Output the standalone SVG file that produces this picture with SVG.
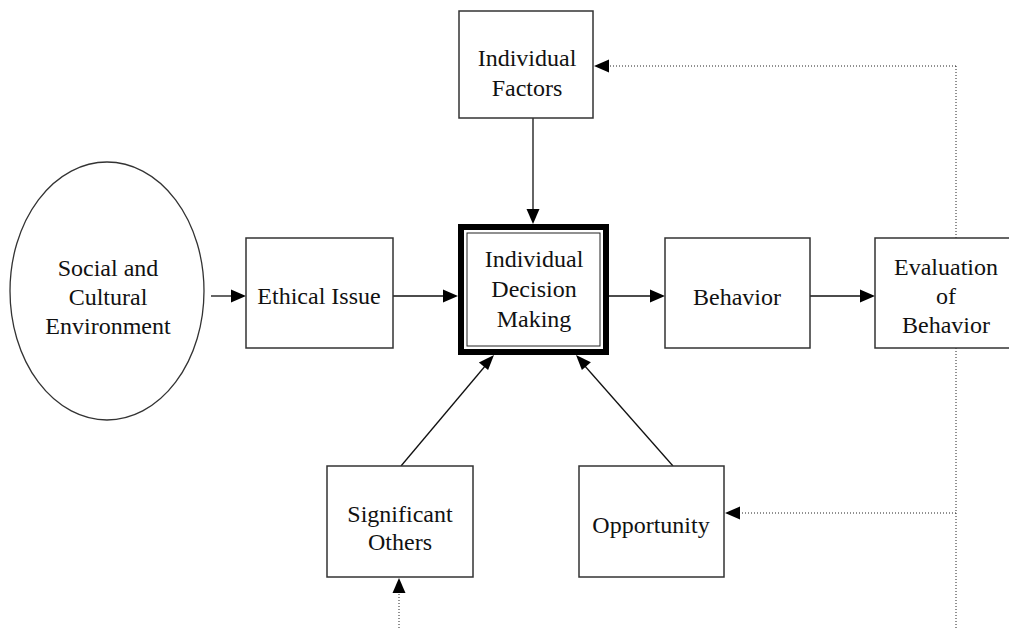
<svg xmlns="http://www.w3.org/2000/svg" width="1009" height="628" viewBox="0 0 1009 628">
  <style>
    .box { fill: #ffffff; stroke: #333333; stroke-width: 1.5; }
    .lbl { font-family: "Liberation Serif", "Times New Roman", "DejaVu Serif", serif; font-size: 24px; fill: #111111; text-anchor: middle; }
    .solid { stroke: #111111; stroke-width: 1.3; fill: none; }
    .dot { stroke: #222222; stroke-width: 1; stroke-dasharray: 1 2; fill: none; }
    .head { fill: #000000; stroke: none; }
  </style>
  <rect width="1009" height="628" fill="#ffffff"/>

  <!-- connectors: shafts plus explicit filled arrowheads -->
  <g id="connectors">
    <line class="solid" x1="211" y1="296" x2="234" y2="296"/>
    <polygon class="head" points="246,296 231,289.5 231,302.5"/>
    <line class="solid" x1="393" y1="296" x2="445" y2="296"/>
    <polygon class="head" points="458,296 443,289.5 443,302.5"/>
    <line class="solid" x1="608" y1="296" x2="653" y2="296"/>
    <polygon class="head" points="665,296 650,289.5 650,302.5"/>
    <line class="solid" x1="810" y1="296" x2="863" y2="296"/>
    <polygon class="head" points="875,296 860,289.5 860,302.5"/>
    <line class="solid" x1="533" y1="118" x2="533" y2="212"/>
    <polygon class="head" points="533,224 526.5,209 539.5,209"/>
    <line class="solid" x1="401" y1="466" x2="486" y2="365"/>
    <polygon class="head" points="494,355 488.1,370.1 478.9,362.4"/>
    <line class="solid" x1="673" y1="466" x2="584" y2="365"/>
    <polygon class="head" points="576,355 590.9,362.2 581.9,370.1"/>
    <!-- feedback loop from evaluation -->
    <line class="dot" x1="956" y1="66" x2="956" y2="628"/>
    <line class="dot" x1="956" y1="66" x2="606" y2="66"/>
    <polygon class="head" points="594,66 609,59.5 609,72.5"/>
    <line class="dot" x1="956" y1="513" x2="737" y2="513"/>
    <polygon class="head" points="725,513 740,506.5 740,519.5"/>
    <line class="dot" x1="399" y1="628" x2="399" y2="590"/>
    <polygon class="head" points="399,578 392.5,593 405.5,593"/>
  </g>

  <g id="social-cultural-environment">
    <ellipse cx="107" cy="291" rx="97" ry="129" fill="#ffffff" stroke="#333333" stroke-width="1.3"/>
    <text class="lbl" x="108" y="276">Social and</text>
    <text class="lbl" x="108" y="305">Cultural</text>
    <text class="lbl" x="108" y="334">Environment</text>
  </g>

  <g id="ethical-issue">
    <rect class="box" x="246" y="238" width="147" height="110"/>
    <text class="lbl" x="319" y="304">Ethical Issue</text>
  </g>

  <g id="individual-factors">
    <rect class="box" x="459" y="11" width="134" height="107"/>
    <text class="lbl" x="527" y="66">Individual</text>
    <text class="lbl" x="527" y="96">Factors</text>
  </g>

  <g id="individual-decision-making">
    <rect x="461" y="227" width="145" height="125" fill="#ffffff" stroke="#000000" stroke-width="6"/>
    <rect x="467" y="233" width="133" height="113" fill="none" stroke="#222222" stroke-width="1"/>
    <text class="lbl" x="534" y="267">Individual</text>
    <text class="lbl" x="534" y="297">Decision</text>
    <text class="lbl" x="534" y="327">Making</text>
  </g>

  <g id="behavior">
    <rect class="box" x="665" y="238" width="145" height="110"/>
    <text class="lbl" x="737" y="305">Behavior</text>
  </g>

  <g id="evaluation-of-behavior">
    <rect class="box" x="875" y="238" width="140" height="110"/>
    <text class="lbl" x="946" y="275">Evaluation</text>
    <text class="lbl" x="946" y="304">of</text>
    <text class="lbl" x="946" y="333">Behavior</text>
  </g>

  <g id="significant-others">
    <rect class="box" x="327" y="466" width="146" height="111"/>
    <text class="lbl" x="400" y="522">Significant</text>
    <text class="lbl" x="400" y="550">Others</text>
  </g>

  <g id="opportunity">
    <rect class="box" x="579" y="466" width="145" height="111"/>
    <text class="lbl" x="651" y="533">Opportunity</text>
  </g>
</svg>
